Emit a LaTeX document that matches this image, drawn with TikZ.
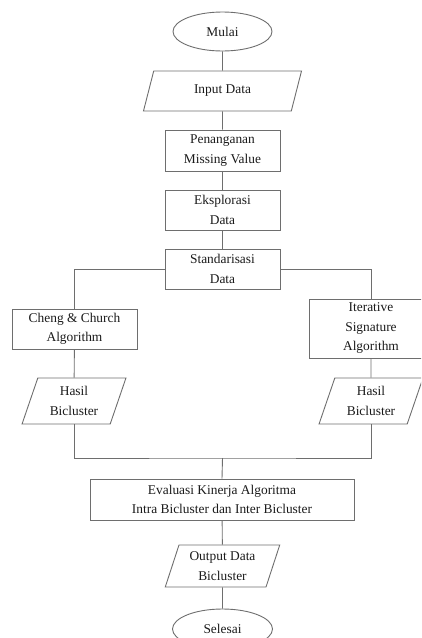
\documentclass[tikz,border=0pt]{standalone}
\usepackage{fontspec}
\setmainfont{Liberation Serif}
\usetikzlibrary{shapes.geometric}
\definecolor{linegray}{HTML}{6E6E6E}
\definecolor{textgray}{HTML}{1A1A1A}
\begin{document}
\begin{tikzpicture}[x=1pt,y=-1pt,
  every node/.style={font=\fontsize{13.4}{19.5}\selectfont, text=textgray, align=center, inner sep=0pt},
  box/.style={draw=linegray, line width=0.9pt, rectangle, minimum width=#1},
  box/.default=115pt,
  term/.style={draw=linegray, line width=0.9pt, ellipse, minimum width=99pt, minimum height=39pt},
  para/.style={draw=linegray, line width=0.9pt, trapezium, trapezium left angle=70, trapezium right angle=110, trapezium stretches=true},
  conn/.style={draw=linegray, line width=0.9pt}
]
\useasboundingbox (0,0) rectangle (421,638);
\clip (0,0) rectangle (421,638);
\node[term] (mulai) at (222.5,31.5) {Mulai};
\node[para, minimum width=159pt, minimum height=40pt] (input) at (222.5,91) {Input Data};
\node[box, minimum height=41pt] (pen) at (222.5,150.5) {Penanganan\\Missing Value};
\node[box, minimum height=40pt] (eks) at (222.5,210) {Eksplorasi\\Data};
\node[box, minimum height=40pt] (std) at (222.5,269) {Standarisasi\\Data};
\node[box=125pt, minimum height=40pt] (cheng) at (74.5,329) {Cheng \& Church\\Algorithm};
\node[box=124pt, minimum height=59pt] (iter) at (371,328.5) {Iterative\\Signature\\Algorithm};
\node[para, minimum width=104pt, minimum height=46pt] (hasilL) at (74,401) {Hasil\\Bicluster};
\node[para, minimum width=104pt, minimum height=46pt] (hasilR) at (371,401) {Hasil\\Bicluster};
\node[box=264pt, minimum height=41pt] (eval) at (222,499.5) {Evaluasi Kinerja Algoritma\\Intra Bicluster dan Inter Bicluster};
\node[para, minimum width=115pt, minimum height=42pt] (out) at (222.5,566) {Output Data\\Bicluster};
\node[term, minimum width=100pt, minimum height=40pt] (sel) at (222.5,629) {Selesai};
\coordinate (join) at (222.5,458);
\draw[conn] (mulai) -- (input);
\draw[conn] (input) -- (pen);
\draw[conn] (pen) -- (eks);
\draw[conn] (eks) -- (std);
\draw[conn] (std.west) -| (cheng.north);
\draw[conn] (std.east) -| (iter.north);
\draw[conn] (cheng) -- (hasilL);
\draw[conn] (iter) -- (hasilR);
\draw[conn] (hasilL.south) |- (join) -| (hasilR.south);
\draw[conn] (join) -- (eval.north);
\draw[conn] (eval) -- (out);
\draw[conn] (out) -- (sel);
\end{tikzpicture}
\end{document}
